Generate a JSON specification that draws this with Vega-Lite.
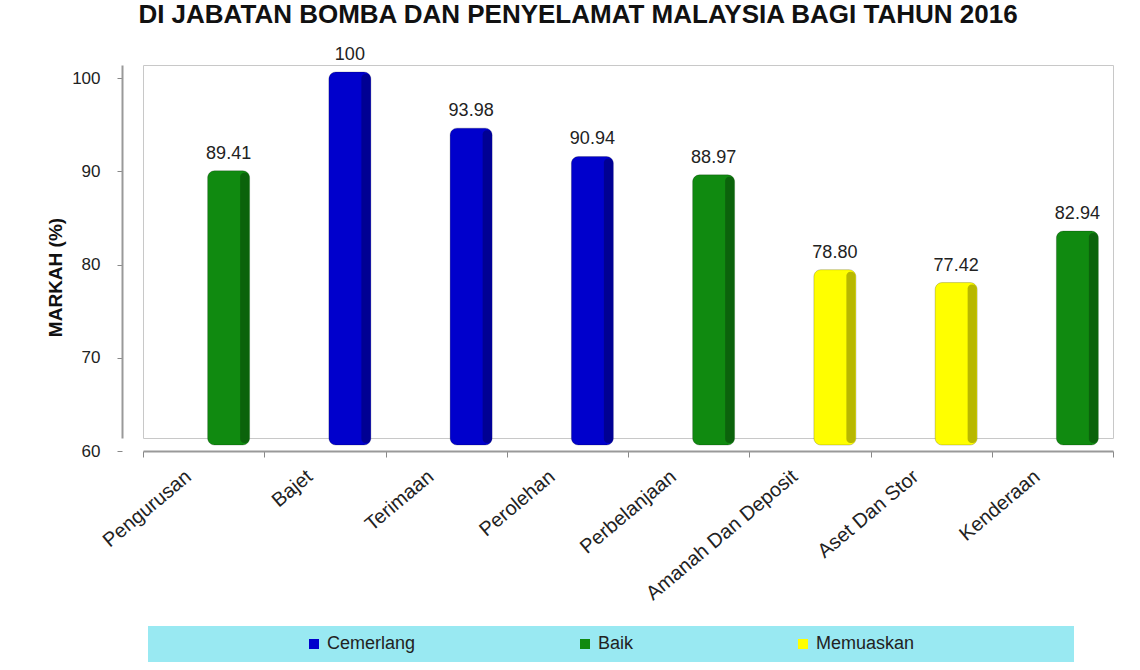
{
  "$schema": "https://vega.github.io/schema/vega-lite/v6.json",
  "width": 970,
  "height": 373,
  "autosize": {"type": "none"},
  "padding": {"left": 143, "top": 65, "right": 27, "bottom": 232},
  "background": "white",
  "title": {
    "text": "DI JABATAN BOMBA DAN PENYELAMAT MALAYSIA BAGI TAHUN 2016",
    "font": "Liberation Sans",
    "fontSize": 26,
    "fontWeight": "bold",
    "color": "#111111",
    "baseline": "alphabetic",
    "anchor": "middle",
    "offset": 6,
    "dx": -50,
    "dy": 9
  },
  "data": {
    "values": [
      {"bahagian": "Pengurusan", "markah": 89.41, "label": "89.41", "taraf": "Baik"},
      {"bahagian": "Bajet", "markah": 100, "label": "100", "taraf": "Cemerlang"},
      {"bahagian": "Terimaan", "markah": 93.98, "label": "93.98", "taraf": "Cemerlang"},
      {"bahagian": "Perolehan", "markah": 90.94, "label": "90.94", "taraf": "Cemerlang"},
      {"bahagian": "Perbelanjaan", "markah": 88.97, "label": "88.97", "taraf": "Baik"},
      {"bahagian": "Amanah Dan Deposit", "markah": 78.80, "label": "78.80", "taraf": "Memuaskan"},
      {"bahagian": "Aset Dan Stor", "markah": 77.42, "label": "77.42", "taraf": "Memuaskan"},
      {"bahagian": "Kenderaan", "markah": 82.94, "label": "82.94", "taraf": "Baik"}
    ]
  },
  "config": {
    "font": "Liberation Sans",
    "view": {"stroke": "#c8c8c8", "strokeWidth": 1}
  },
  "encoding": {
    "x": {
      "field": "bahagian",
      "type": "nominal",
      "sort": null,
      "scale": {"paddingInner": 0, "paddingOuter": 0},
      "axis": {
        "title": null,
        "offset": 13,
        "tickOffset": -21,
        "tickBand": "extent",
        "tickSize": 6,
        "tickColor": "#888888",
        "domainColor": "#999999",
        "domainWidth": 2,
        "labelAngle": -40,
        "labelAlign": "right",
        "labelBaseline": "top",
        "labelPadding": 9,
        "labelOffset": -22,
        "labelFontSize": 20,
        "labelColor": "#222222",
        "labelFont": "Liberation Sans",
        "labelLimit": 300
      }
    },
    "y": {
      "field": "markah",
      "type": "quantitative",
      "scale": {"domain": [60, 100], "nice": false, "zero": false},
      "axis": {
        "title": "MARKAH (%)",
        "titleFont": "Liberation Sans",
        "titleFontSize": 19,
        "titleFontWeight": "bold",
        "titleColor": "#111111",
        "titleX": -57,
        "titleY": 212,
        "offset": 21,
        "tickOffset": 13,
        "values": [60, 70, 80, 90, 100],
        "grid": false,
        "tickSize": 5,
        "tickColor": "#888888",
        "domainColor": "#999999",
        "domainWidth": 2,
        "labelPadding": 17,
        "labelFontSize": 17,
        "labelColor": "#222222",
        "labelFont": "Liberation Sans"
      }
    }
  },
  "layer": [
    {
      "mark": {
        "type": "bar",
        "width": 42,
        "xOffset": 25,
        "yOffset": 7,
        "y2Offset": 7,
        "cornerRadius": 7,
        "stroke": "#00000033",
        "strokeWidth": 1
      },
      "encoding": {
        "y2": {"datum": 60},
        "color": {
          "field": "taraf",
          "type": "nominal",
          "scale": {
            "domain": ["Cemerlang", "Baik", "Memuaskan"],
            "range": ["#0000CC", "#108A10", "#FFFF00"]
          },
          "legend": {
            "orient": "none",
            "legendX": 5,
            "legendY": 561,
            "direction": "horizontal",
            "columns": 3,
            "fillColor": "#99E9F2",
            "padding": 9,
            "title": "\u00a0",
            "titleOrient": "left",
            "titleFontSize": 18,
            "titlePadding": 148,
            "columnPadding": 160,
            "symbolType": "square",
            "symbolSize": 100,
            "symbolStrokeWidth": 0,
            "labelFontSize": 18,
            "labelColor": "#222222",
            "labelFont": "Liberation Sans",
            "labelOffset": 4,
            "labelLimit": 500,
            "labelExpr": "datum.label == 'Memuaskan' ? pad(datum.label, 39, '\u00a0') + '\u200b' : datum.label"
          }
        }
      }
    },
    {
      "mark": {
        "type": "bar",
        "width": 9,
        "xOffset": 41,
        "yOffset": 9,
        "y2Offset": 5,
        "cornerRadius": 4,
        "color": "#000000",
        "opacity": 0.28
      },
      "encoding": {
        "y2": {"datum": 60}
      }
    },
    {
      "mark": {
        "type": "text",
        "xOffset": 25,
        "yOffset": -5,
        "baseline": "alphabetic",
        "align": "center",
        "fontSize": 18,
        "color": "#222222",
        "font": "Liberation Sans"
      },
      "encoding": {
        "text": {"field": "label"}
      }
    }
  ]
}
